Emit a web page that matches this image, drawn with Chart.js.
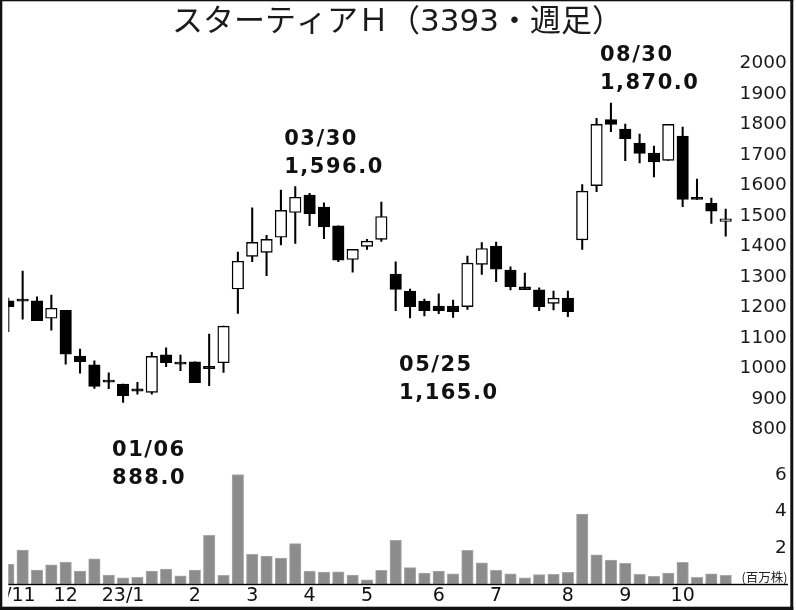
<!DOCTYPE html>
<html><head><meta charset="utf-8">
<script src="https://cdn.jsdelivr.net/npm/chart.js@4.4.0/dist/chart.umd.min.js"></script>
<style>html,body{margin:0;padding:0;background:#fff;}canvas{display:block;}</style>
</head><body>
<canvas id="c" width="796" height="610"></canvas>
<script>
const title = 'スターティアＨ（3393・週足）';
const weeks = ['2022-11-07','2022-11-14','2022-11-21','2022-11-28','2022-12-05','2022-12-12','2022-12-19','2022-12-26',
  '2023-01-02','2023-01-09','2023-01-16','2023-01-23','2023-01-30','2023-02-06','2023-02-13','2023-02-20','2023-02-27',
  '2023-03-06','2023-03-13','2023-03-20','2023-03-27','2023-04-03','2023-04-10','2023-04-17','2023-04-24',
  '2023-05-01','2023-05-08','2023-05-15','2023-05-22','2023-05-29','2023-06-05','2023-06-12','2023-06-19','2023-06-26',
  '2023-07-03','2023-07-10','2023-07-17','2023-07-24','2023-07-31','2023-08-07','2023-08-14','2023-08-21','2023-08-28',
  '2023-09-04','2023-09-11','2023-09-18','2023-09-25','2023-10-02','2023-10-09','2023-10-16','2023-10-23'];
const open  = [1221,1220,1221,1164,1190,1040,1011,954,948,925,921,1044,1013,1021,1004,1018,1260,1367,1380,1430,1511,1568,1529,1467,1357,1400,1423,1309,1253,1220,1204,1204,1202,1341,1401,1322,1267,1257,1213,1230,1421,1599,1816,1785,1739,1706,1682,1762,1558,1541,1482];
const high  = [1230,1319,1234,1240,1190,1063,1024,985,948,954,1052,1067,1043,1021,1112,1138,1381,1526,1436,1585,1596,1574,1543,1467,1390,1423,1545,1349,1260,1227,1244,1224,1368,1412,1414,1333,1312,1264,1253,1253,1603,1820,1870,1801,1768,1729,1800,1791,1621,1558,1522];
const low   = [1120,1161,1156,1125,1013,984,934,933,888,915,915,1005,992,953,943,986,1180,1350,1304,1405,1410,1468,1425,1350,1315,1390,1416,1189,1165,1172,1179,1167,1193,1308,1284,1257,1258,1189,1191,1169,1390,1579,1776,1681,1674,1628,1682,1530,1554,1475,1433];
const close = [1202,1220,1156,1197,1046,1022,940,954,910,925,1039,1018,1013,953,999,1138,1351,1413,1423,1518,1561,1507,1464,1355,1390,1417,1498,1259,1202,1189,1189,1186,1345,1393,1325,1268,1258,1202,1230,1186,1581,1800,1800,1753,1705,1677,1800,1554,1554,1515,1490];
const volume = [1.12,1.89,0.79,1.07,1.23,0.74,1.41,0.52,0.36,0.39,0.74,0.85,0.47,0.79,2.69,0.50,6.02,1.65,1.56,1.45,2.24,0.74,0.68,0.70,0.52,0.25,0.78,2.42,0.92,0.63,0.74,0.58,1.87,1.18,0.78,0.58,0.36,0.54,0.56,0.67,3.85,1.62,1.34,1.16,0.56,0.45,0.63,1.21,0.39,0.59,0.50];
const priceTicks = [800,900,1000,1100,1200,1300,1400,1500,1600,1700,1800,1900,2000];
const volumeTicks = [2,4,6];
const volumeUnit = '(百万株)';
const monthTickIndex = [0,4,8,13,17,21,25,30,34,39,43,47];
const monthTickLabels = ['22/11','12','23/1','2','3','4','5','6','7','8','9','10'];
const annotIndex = [8,20,28,42];
const annotDate = ['01/06','03/30','05/25','08/30'];
const annotValue = [888.0,1596.0,1165.0,1870.0];
const annotSide = ['low','high','low','high'];

const tickFont = {family: "'DejaVu Sans', sans-serif", size: 18.5};
const clipLeft = {left: 0, right: false, top: false, bottom: false};

function fixAxis(w, h) {
  return s => {
    if (w !== null) s.width = w;
    if (h !== null) s.height = h;
    s.paddingTop = 0; s.paddingBottom = 0; s.paddingLeft = 0; s.paddingRight = 0;
  };
}

const extras = {
  id: 'extras',
  afterDraw(chart) {
    const ctx = chart.ctx, xs = chart.scales.x, ys = chart.scales.y, yv = chart.scales.yv;
    const area = chart.chartArea;
    ctx.save();
    ctx.font = "bold 21px 'DejaVu Sans', sans-serif";
    ctx.fillStyle = '#111';
    ctx.textAlign = 'left';
    ctx.textBaseline = 'alphabetic';
    try { ctx.letterSpacing = '1.5px'; } catch (e) {}
    annotIndex.forEach((idx, k) => {
      const x = xs.getPixelForValue(idx) - 11;
      const y = ys.getPixelForValue(annotValue[k]);
      const txt = annotValue[k].toLocaleString('en-US', {minimumFractionDigits: 1, maximumFractionDigits: 1});
      let b1, b2;
      if (annotSide[k] === 'high') { b2 = y - 14; b1 = b2 - 27.7; }
      else { b1 = y + 53.5; b2 = b1 + 27.7; }
      ctx.fillText(annotDate[k], x, b1);
      ctx.fillText(txt, x, b2);
    });
    try { ctx.letterSpacing = '0px'; } catch (e) {}
    ctx.font = "12.5px 'Noto Sans CJK JP', sans-serif";
    ctx.fillStyle = '#222';
    ctx.textAlign = 'right';
    ctx.textBaseline = 'middle';
    ctx.fillText(volumeUnit, 787.5, yv.getPixelForValue(0) - 7);
    ctx.fillStyle = '#000';
    const by = yv.getPixelForValue(0);
    ctx.fillRect(area.left, by - 0.7, 788 - area.left, 1.4);
    ctx.fillStyle = '#fff';
    ctx.fillRect(0, area.bottom + 1, area.left, chart.height - area.bottom);
    ctx.fillStyle = '#111';
    ctx.fillRect(0, 0, 2.3, chart.height);
    ctx.fillRect(0, 0, 793.3, 1.3);
    ctx.fillRect(790.3, 0, 3, chart.height);
    ctx.fillRect(0, 606.7, 793.3, 3.3);
    ctx.restore();
  }
};

new Chart(document.getElementById('c'), {
  type: 'bar',
  data: {
    labels: weeks,
    datasets: [
      {
        label: 'wick', yAxisID: 'y', order: 2, grouped: false, clip: clipLeft,
        data: low.map((l, i) => [l, high[i]]),
        backgroundColor: '#000', borderWidth: 0, barThickness: 1.4
      },
      {
        label: 'body', yAxisID: 'y', order: 1, grouped: false, clip: clipLeft,
        data: open.map((o, i) => [o, close[i]]),
        backgroundColor: open.map((o, i) => close[i] > o ? '#fff' : '#000'),
        borderColor: '#000', borderWidth: 1.4, borderSkipped: false,
        barThickness: 11.5, minBarLength: 2.2
      },
      {
        label: 'volume', yAxisID: 'yv', order: 3, grouped: false, clip: clipLeft,
        data: volume,
        backgroundColor: '#8c8c8c', borderColor: '#a9a9a9', borderWidth: 1, borderSkipped: false,
        barThickness: 11.5
      }
    ]
  },
  options: {
    responsive: false, animation: false, devicePixelRatio: 1,
    layout: {padding: {left: 8.3, right: 9.3, top: 0, bottom: 0}},
    plugins: {
      legend: {display: false}, tooltip: {enabled: false},
      title: {display: true, text: title, color: '#1a1a1a',
        font: {family: "'DejaVu Sans', 'Noto Sans CJK JP', sans-serif", size: 31, weight: 'normal', lineHeight: 1.2},
        padding: {top: 4, bottom: 0}}
    },
    scales: {
      x: {
        type: 'category', offset: false,
        grid: {display: false, drawTicks: false}, border: {display: false},
        ticks: {autoSkip: false, maxRotation: 0, minRotation: 0, padding: 0, color: '#111',
          font: {family: "'DejaVu Sans', sans-serif", size: 19},
          callback: (v, i) => { const k = monthTickIndex.indexOf(i); return k >= 0 ? monthTickLabels[k] : ''; }},
        afterFit: fixAxis(null, 25.5)
      },
      y: {
        position: 'right', stack: 'main', stackWeight: 418.1, min: 700, max: 2073.1,
        grid: {display: false, drawTicks: false}, border: {display: false},
        ticks: {autoSkip: false, crossAlign: 'far', padding: 14.5, color: '#1a1a1a', font: tickFont,
          callback: v => String(v)},
        afterBuildTicks: s => { s.ticks = priceTicks.map(v => ({value: v})); },
        afterFit: fixAxis(61, null)
      },
      yv: {
        position: 'right', stack: 'main', stackWeight: 124.7, min: 0, max: 6.83,
        grid: {display: false, drawTicks: false}, border: {display: false},
        ticks: {autoSkip: false, crossAlign: 'far', padding: 49.5, color: '#1a1a1a', font: tickFont,
          callback: v => String(v)},
        afterBuildTicks: s => { s.ticks = volumeTicks.map(v => ({value: v})); },
        afterFit: fixAxis(61, null)
      }
    }
  },
  plugins: [extras]
});
</script>
</body></html>
